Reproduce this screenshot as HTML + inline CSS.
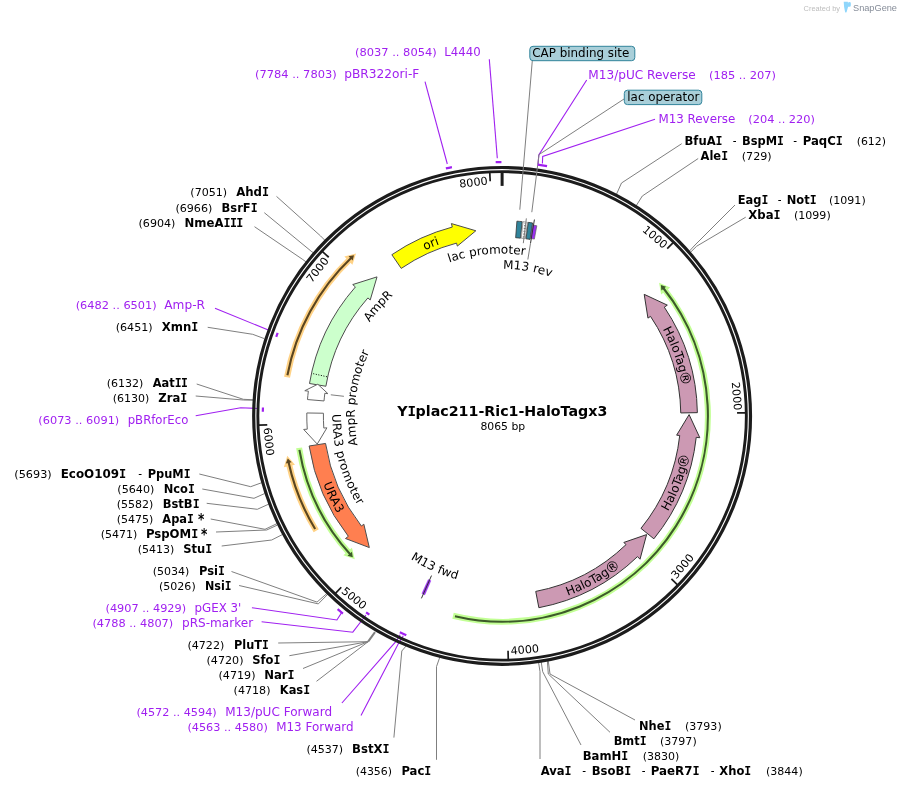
<!DOCTYPE html>
<html lang="en"><head><meta charset="utf-8"><title>YIplac211-Ric1-HaloTagx3</title>
<style>
html,body{margin:0;padding:0;background:#fff;}
body{width:901px;height:789px;overflow:hidden;}
svg{display:block;}
text{font-family:"DejaVu Sans","Liberation Sans",sans-serif;font-size:12px;fill:#000;}
.b{font-weight:bold;}
.n{font-size:11px;}
.ast{font-weight:bold;font-size:15px;}
.m{font-family:"DejaVu Sans Mono","Liberation Mono",monospace;font-weight:bold;letter-spacing:-0.6px;}
.p{fill:#a020f0;}
.pn{fill:#a020f0;font-size:11px;}
.tk{font-size:11px;}
.ttl{font-weight:bold;font-size:14px;}
.g{fill:none;stroke:#7f7f7f;stroke-width:1;}
.gt{fill:none;stroke:#7f7f7f;stroke-width:2;}
.pl{fill:none;stroke:#a020f0;stroke-width:1.1;}
.pm{fill:none;stroke:#a020f0;stroke-width:2.2;}
.sg1{font-family:"Liberation Sans",sans-serif;font-size:7.6px;fill:#bdbdbd;}
.sg2{font-family:"Liberation Sans",sans-serif;font-size:9.9px;fill:#858c98;}
</style></head><body>
<svg width="901" height="789" viewBox="0 0 901 789">
<rect x="0" y="0" width="901" height="789" fill="#ffffff"/>
<polyline points="681.7,143.7 621.5,183 615.69,196" class="g"/>
<polyline points="698.2,158.5 642.3,196 635.23,207.25" class="g"/>
<polyline points="735,205 695,245 688.04,252.55" class="g"/>
<polyline points="745.7,217.2 696.7,246.2 689.05,253.71" class="g"/>
<polyline points="635,720 550,674 548.01,659.1" class="g"/>
<polyline points="610,732.3 548.3,674 547.25,659.25" class="g"/>
<polyline points="581,745 542.7,671.7 540.98,660.33" class="g"/>
<polyline points="540,759 540,671.7 538.32,660.74" class="g"/>
<polyline points="436.5,759.8 436.5,666.6 440.38,655.58" class="g"/>
<polyline points="393.9,737.6 401.8,651 407.31,644.53" class="g"/>
<polyline points="239.1,585.5 318.3,603.9 328,594" class="g"/>
<polyline points="231.5,571.5 317,602.1 327.2,593.2" class="g"/>
<polyline points="221.7,546 271.7,540 282.5,534.5" class="g"/>
<polyline points="216,532 266.7,530 277.5,525" class="g"/>
<polyline points="210.7,519 265,529.3 277,523.6" class="g"/>
<polyline points="206.7,503.3 257.3,509.3 269,504" class="g"/>
<polyline points="202.3,489 254,498.3 264.5,493.6" class="g"/>
<polyline points="199.3,474 250.7,486.7 262.5,482.4" class="g"/>
<polyline points="195.7,396 243.3,400 254,400.2" class="g"/>
<polyline points="196.7,384 243.3,399.3 254,399.8" class="g"/>
<polyline points="207.7,327.3 252.7,334.3 264,338.5" class="g"/>
<polyline points="254.5,226.7 302.2,259.1 307.54,262.93" class="g"/>
<polyline points="264.3,212.7 311.9,251.8 315.15,253.71" class="g"/>
<polyline points="276.5,196.4 320.5,235.9 326.29,241.69" class="g"/>
<polyline points="316.5,681.3 368.1,641.7" class="g"/>
<polyline points="303,668.5 368.1,641.7" class="g"/>
<polyline points="289.4,655.7 368.1,641.7" class="g"/>
<polyline points="278.2,643 368.1,641.7" class="g"/>
<polyline points="368.1,641.7 375,632.2" class="gt"/>
<polyline points="489.3,59.3 497.3,158.3" class="pl"/>
<polyline points="425,81.7 447.3,164" class="pl"/>
<polyline points="586.7,80 538.8,155 538.1,164" class="pl"/>
<polyline points="655,119.3 542.7,156.5 542.4,163.5" class="pl"/>
<polyline points="215,308.3 268.3,330 270.5,331" class="pl"/>
<polyline points="195.7,415.7 240.7,407.7 258,408.5" class="pl"/>
<polyline points="251.9,607.7 336.9,620 341.3,613.1" class="pl"/>
<polyline points="261.6,621.8 352.8,632.2 366,615" class="pl"/>
<polyline points="341.9,703 396.2,641.2 400.2,634.8" class="pl"/>
<polyline points="361,715.4 398.7,643 403.3,635.8" class="pl"/>
<circle cx="502.1" cy="415.9" r="248.4" fill="none" stroke="#1c1c1c" stroke-width="3.2"/>
<circle cx="502.1" cy="415.9" r="244.25" fill="none" stroke="#1c1c1c" stroke-width="2.9"/>
<polyline points="532.3,60.7 519.8,209.7" class="g"/>
<polyline points="624,99 539,154.6 531.8,212.2" class="g"/>
<path d="M 495.68 162.18 A 253.8 253.8 0 0 1 501.44 162.1" class="pm"/>
<path d="M 445.87 168.41 A 253.8 253.8 0 0 1 451.93 167.11" class="pm"/>
<path d="M 537.64 164.6 A 253.8 253.8 0 0 1 547.04 166.11" class="pm"/>
<path d="M 276.25 336.81 A 239.3 239.3 0 0 1 277.66 332.88" class="pm"/>
<path d="M 262.84 411.72 A 239.3 239.3 0 0 1 262.95 407.55" class="pm"/>
<path d="M 342.9 613.56 A 253.8 253.8 0 0 1 337.61 609.18" class="pm"/>
<path d="M 369.37 614.54 A 238.9 238.9 0 0 1 366.1 612.31" class="pm"/>
<path d="M 406.3 635.19 A 239.3 239.3 0 0 1 399.83 632.25" class="pm"/>
<line x1="502.1" y1="172.4" x2="502.1" y2="185.9" stroke="#1c1c1c" stroke-width="3"/>
<line x1="673.19" y1="242.63" x2="667.21" y2="248.68" stroke="#1c1c1c" stroke-width="1.7"/>
<text transform="translate(652.63 239.89) rotate(40.54)" x="0" y="0" text-anchor="middle" class="tk" textLength="28.4" lengthAdjust="spacingAndGlyphs">1000</text>
<line x1="745.58" y1="412.82" x2="737.08" y2="412.93" stroke="#1c1c1c" stroke-width="1.7"/>
<text transform="translate(732.88 396.42) rotate(85.17)" x="0" y="0" text-anchor="middle" class="tk" textLength="28.4" lengthAdjust="spacingAndGlyphs">2000</text>
<line x1="677.52" y1="584.78" x2="671.4" y2="578.88" stroke="#1c1c1c" stroke-width="1.7"/>
<text transform="translate(685.38 568.67) rotate(-50.19)" x="0" y="0" text-anchor="middle" class="tk" textLength="28.4" lengthAdjust="spacingAndGlyphs">3000</text>
<line x1="508.26" y1="659.32" x2="508.05" y2="650.82" stroke="#1c1c1c" stroke-width="1.7"/>
<text transform="translate(525.18 653.38) rotate(-5.55)" x="0" y="0" text-anchor="middle" class="tk" textLength="28.4" lengthAdjust="spacingAndGlyphs">4000</text>
<line x1="335.45" y1="593.44" x2="341.27" y2="587.25" stroke="#1c1c1c" stroke-width="1.7"/>
<text transform="translate(351.66 601.1) rotate(39.09)" x="0" y="0" text-anchor="middle" class="tk" textLength="28.4" lengthAdjust="spacingAndGlyphs">5000</text>
<line x1="258.78" y1="425.15" x2="267.27" y2="424.82" stroke="#1c1c1c" stroke-width="1.7"/>
<text transform="translate(264.93 441.98) rotate(83.72)" x="0" y="0" text-anchor="middle" class="tk" textLength="28.4" lengthAdjust="spacingAndGlyphs">6000</text>
<line x1="322.46" y1="251.52" x2="328.73" y2="257.25" stroke="#1c1c1c" stroke-width="1.7"/>
<text transform="translate(320.5 272.16) rotate(-51.64)" x="0" y="0" text-anchor="middle" class="tk" textLength="28.4" lengthAdjust="spacingAndGlyphs">7000</text>
<line x1="489.77" y1="172.71" x2="490.2" y2="181.2" stroke="#1c1c1c" stroke-width="1.7"/>
<text transform="translate(473.87 186.03) rotate(-7)" x="0" y="0" text-anchor="middle" class="tk" textLength="28.4" lengthAdjust="spacingAndGlyphs">8000</text>
<path d="M 453.01 615.76 A 205.8 205.8 0 0 0 664.11 288.99" fill="none" stroke="#c2ff94" stroke-width="6" stroke-linecap="butt"/>
<path d="M 659.06 282.79 L 670.17 287.51 L 661.11 294.43 Z" fill="#c2ff94"/>
<path d="M 454.95 616.23 A 205.8 205.8 0 0 0 663.12 287.74" fill="none" stroke="#3d5a2a" stroke-width="2.1"/>
<path d="M 660.85 284.94 L 666.1 286.66 L 661.38 290.38 Z" fill="#3d5a2a"/>
<path d="M 299.1 447.87 A 205.5 205.5 0 0 0 349.31 553.33" fill="none" stroke="#c2ff94" stroke-width="6" stroke-linecap="butt"/>
<path d="M 354.77 559.17 L 343.37 555.22 L 351.93 547.7 Z" fill="#c2ff94"/>
<path d="M 299.42 449.84 A 205.5 205.5 0 0 0 350.39 554.51" fill="none" stroke="#3d5a2a" stroke-width="2.1"/>
<path d="M 352.84 557.15 L 347.49 555.78 L 351.94 551.76 Z" fill="#3d5a2a"/>
<path d="M 287.05 377.21 A 218.5 218.5 0 0 1 350.19 258.85" fill="none" stroke="#ffd285" stroke-width="6" stroke-linecap="butt"/>
<path d="M 356.04 253.4 L 344.39 256.55 L 352.41 264.65 Z" fill="#ffd285"/>
<path d="M 287.42 375.24 A 218.5 218.5 0 0 1 351.34 257.74" fill="none" stroke="#5a4520" stroke-width="2.1"/>
<path d="M 353.97 255.28 L 348.54 256.27 L 352.7 260.6 Z" fill="#5a4520"/>
<path d="M 316.2 530.72 A 218.5 218.5 0 0 1 288.86 463.56" fill="none" stroke="#ffd285" stroke-width="6" stroke-linecap="butt"/>
<path d="M 287.26 455.72 L 283.87 467.3 L 294.97 464.69 Z" fill="#ffd285"/>
<path d="M 315.15 529.01 A 218.5 218.5 0 0 1 288.52 461.99" fill="none" stroke="#5a4520" stroke-width="2.1"/>
<path d="M 287.79 458.47 L 285.8 463.62 L 291.66 462.32 Z" fill="#5a4520"/>
<path d="M 401.22 268.4 L 391.85 254.7 A 195.3 195.3 0 0 1 452.31 227.05 L 451.39 223.57 L 475.85 230.75 L 457.33 246.1 L 456.54 243.1 A 178.7 178.7 0 0 0 401.22 268.4 Z" fill="#ffff00" stroke="#4d4d4d" stroke-width="1" stroke-linejoin="miter"/>
<path d="M 325.88 386.25 L 309.51 383.5 A 195.3 195.3 0 0 1 355.42 286.95 L 352.72 284.57 L 377.02 276.89 L 370.22 299.96 L 367.89 297.91 A 178.7 178.7 0 0 0 325.88 386.25 Z" fill="#ccffcc" stroke="#4d4d4d" stroke-width="1" stroke-linejoin="miter"/>
<line x1="326.92" y1="376.74" x2="312.28" y2="373.47" stroke="#000" stroke-width="1" stroke-dasharray="1,1.6"/>
<path d="M 324.03 400.95 L 307.48 399.56 A 195.3 195.3 0 0 1 308.37 391.17 L 304.8 390.71 L 317.8 384.23 L 327.91 393.66 L 324.84 393.27 A 178.7 178.7 0 0 0 324.03 400.95 Z" fill="#ffffff" stroke="#666" stroke-width="1" stroke-linejoin="miter"/>
<path d="M 323.42 413.22 L 306.82 412.97 A 195.3 195.3 0 0 0 307.25 429.18 L 303.66 429.43 L 317.23 444.06 L 326.91 427.84 L 323.81 428.05 A 178.7 178.7 0 0 1 323.42 413.22 Z" fill="#ffffff" stroke="#666" stroke-width="1" stroke-linejoin="miter"/>
<path d="M 325.54 443.45 L 309.14 446.01 A 195.3 195.3 0 0 0 348.33 536.3 L 345.49 538.52 L 369.32 547.57 L 363.84 524.16 L 361.4 526.07 A 178.7 178.7 0 0 1 325.54 443.45 Z" fill="#ff7f50" stroke="#4d4d4d" stroke-width="1" stroke-linejoin="miter"/>
<path d="M 680.78 412.94 L 697.37 412.66 A 195.3 195.3 0 0 0 664.32 307.14 L 667.31 305.14 L 644.21 294.35 L 647.95 318.11 L 650.53 316.39 A 178.7 178.7 0 0 1 680.78 412.94 Z" fill="#cc99b3" stroke="#333" stroke-width="1" stroke-linejoin="miter"/>
<path d="M 640.98 528.36 L 653.88 538.81 A 195.3 195.3 0 0 0 696.22 437.33 L 699.8 437.73 L 689.1 414.59 L 676.64 435.17 L 679.72 435.51 A 178.7 178.7 0 0 1 640.98 528.36 Z" fill="#cc99b3" stroke="#333" stroke-width="1" stroke-linejoin="miter"/>
<path d="M 535.74 591.41 L 538.86 607.71 A 195.3 195.3 0 0 0 637.52 556.62 L 640.02 559.22 L 646.6 534.59 L 623.86 542.43 L 626.01 544.66 A 178.7 178.7 0 0 1 535.74 591.41 Z" fill="#cc99b3" stroke="#333" stroke-width="1" stroke-linejoin="miter"/>
<path d="M 515.65 237.71 L 516.91 221.16 A 195.3 195.3 0 0 1 522.18 221.63 L 520.47 238.15 A 178.7 178.7 0 0 0 515.65 237.71 Z" fill="#31849b" stroke="#333" stroke-width="0.8"/>
<path d="M 521.24 238.23 L 523.02 221.72 A 195.3 195.3 0 0 1 527.42 222.25 L 525.27 238.71 A 178.7 178.7 0 0 0 521.24 238.23 Z" fill="#ffffff" stroke="#777" stroke-width="0.7"/>
<line x1="523.69" y1="237.5" x2="525.44" y2="223.01" stroke="#777" stroke-width="2" stroke-dasharray="1.2,1.6"/>
<path d="M 526.04 238.81 L 528.27 222.36 A 195.3 195.3 0 0 1 532.65 223 L 530.05 239.4 A 178.7 178.7 0 0 0 526.04 238.81 Z" fill="#31849b" stroke="#333" stroke-width="0.8"/>
<path d="M 530.52 238.46 L 532.67 225.03 A 193.3 193.3 0 0 1 536.83 225.75 L 534.39 239.12 A 179.7 179.7 0 0 0 530.52 238.46 Z" fill="#9a30f0" stroke="#555" stroke-width="0.6"/>
<polyline points="526.35,218.38 523.31,243.2" class="g"/>
<line x1="534.43" y1="219.54" x2="530.53" y2="243.22" stroke="#333" stroke-width="1"/>
<polyline points="530.53,243.22 527.85,259.51" class="g"/>
<polyline points="330.8,394.8 343.9,396.3" class="g"/>
<path d="M 430.96 580.7 L 424.81 594.93 A 195 195 0 0 1 421.85 593.62 L 428.23 579.5 A 179.5 179.5 0 0 0 430.96 580.7 Z" fill="#9a30f0" stroke="#9a30f0" stroke-width="0.3"/>
<line x1="431.5" y1="575.59" x2="421.43" y2="598.36" stroke="#333" stroke-width="1"/>
<path id="tp1" d="M 327.9 360.98 A 182.65 182.65 0 0 1 586.44 253.89" fill="none" stroke="none"/>
<text text-anchor="middle" textLength="15.7" lengthAdjust="spacing"><textPath href="#tp1" startOffset="50%">ori</textPath></text>
<path id="tp2" d="M 341.58 439.89 A 162.3 162.3 0 0 1 506.35 253.66" fill="none" stroke="none"/>
<text text-anchor="middle" textLength="35.7" lengthAdjust="spacing"><textPath href="#tp2" startOffset="50%">AmpR</textPath></text>
<path id="tp3" d="M 394.07 516.11 A 147.35 147.35 0 0 1 422.17 292.11" fill="none" stroke="none"/>
<text text-anchor="middle" textLength="95.5" lengthAdjust="spacing"><textPath href="#tp3" startOffset="50%">AmpR promoter</textPath></text>
<path id="tp4" d="M 362.08 320.03 A 169.7 169.7 0 0 0 432 570.44" fill="none" stroke="none"/>
<text text-anchor="middle" textLength="96" lengthAdjust="spacing"><textPath href="#tp4" startOffset="50%">URA3 promoter</textPath></text>
<path id="tp5" d="M 327.65 337.28 A 191.35 191.35 0 0 0 454.97 601.35" fill="none" stroke="none"/>
<text text-anchor="middle" textLength="33" lengthAdjust="spacing"><textPath href="#tp5" startOffset="50%">URA3</textPath></text>
<path id="tp6" d="M 368.5 323.74 A 162.3 162.3 0 0 1 616.06 300.34" fill="none" stroke="none"/>
<text text-anchor="middle" textLength="76.8" lengthAdjust="spacing"><textPath href="#tp6" startOffset="50%">lac promoter</textPath></text>
<path id="tp7" d="M 407.24 303.41 A 147.15 147.15 0 0 1 629.36 342.01" fill="none" stroke="none"/>
<text text-anchor="middle" textLength="49" lengthAdjust="spacing"><textPath href="#tp7" startOffset="50%">M13 rev</textPath></text>
<path id="tp8" d="M 338.97 462.68 A 169.7 169.7 0 0 0 576.49 568.43" fill="none" stroke="none"/>
<text text-anchor="middle" textLength="51" lengthAdjust="spacing"><textPath href="#tp8" startOffset="50%">M13 fwd</textPath></text>
<path id="tp9" d="M 567.85 245.5 A 182.65 182.65 0 0 1 658.5 510.24" fill="none" stroke="none"/>
<text text-anchor="middle"><textPath href="#tp9" startOffset="50%">HaloTag<tspan font-size="14.5" dx="-1.2" dy="0.6">&#174;</tspan></textPath></text>
<path id="tp10" d="M 564.87 596.66 A 191.35 191.35 0 0 0 669.22 322.69" fill="none" stroke="none"/>
<text text-anchor="middle"><textPath href="#tp10" startOffset="50%">HaloTag<tspan font-size="14.5" dx="-1.2" dy="0.6">&#174;</tspan></textPath></text>
<path id="tp11" d="M 434.15 594.78 A 191.35 191.35 0 0 0 690.06 451.76" fill="none" stroke="none"/>
<text text-anchor="middle"><textPath href="#tp11" startOffset="50%">HaloTag<tspan font-size="14.5" dx="-1.2" dy="0.6">&#174;</tspan></textPath></text>
<text x="397.3" y="415.8" class="ttl" textLength="210" lengthAdjust="spacingAndGlyphs">Y<tspan class="m">I</tspan>plac211-Ric1-HaloTagx3</text>
<text x="480.4" y="430" class="n" textLength="44.8" lengthAdjust="spacingAndGlyphs">8065 bp</text>
<rect x="529.8" y="46.3" width="105" height="14.4" rx="3.2" ry="3.2" fill="#a9cfd9" stroke="#31849b" stroke-width="1"/>
<text x="532.3" y="56.9" textLength="97" lengthAdjust="spacingAndGlyphs">CAP binding site</text>
<rect x="624.3" y="90.2" width="77.5" height="14.4" rx="3.2" ry="3.2" fill="#a9cfd9" stroke="#31849b" stroke-width="1"/>
<text x="627.3" y="101" textLength="72" lengthAdjust="spacingAndGlyphs">lac operator</text>
<text x="355" y="56" class="pn" textLength="81.7" lengthAdjust="spacingAndGlyphs">(8037 .. 8054)</text>
<text x="444.3" y="56" class="p" textLength="36.4" lengthAdjust="spacingAndGlyphs">L4440</text>
<text x="255" y="78" class="pn" textLength="81.7" lengthAdjust="spacingAndGlyphs">(7784 .. 7803)</text>
<text x="344.3" y="78" class="p" textLength="75" lengthAdjust="spacingAndGlyphs">pBR322ori-F</text>
<text x="588.3" y="79" class="p" textLength="107.4" lengthAdjust="spacingAndGlyphs">M13/pUC Reverse</text>
<text x="709" y="79" class="pn" textLength="67" lengthAdjust="spacingAndGlyphs">(185 .. 207)</text>
<text x="658.5" y="123" class="p" textLength="76.8" lengthAdjust="spacingAndGlyphs">M13 Reverse</text>
<text x="748.3" y="123" class="pn" textLength="66.7" lengthAdjust="spacingAndGlyphs">(204 .. 220)</text>
<text x="684.5" y="145" class="b" textLength="37.5" lengthAdjust="spacingAndGlyphs">BfuA<tspan class="m">I</tspan></text>
<text x="732.7" y="145" textLength="3.8" lengthAdjust="spacingAndGlyphs">-</text>
<text x="742" y="145" class="b" textLength="41.3" lengthAdjust="spacingAndGlyphs">BspM<tspan class="m">I</tspan></text>
<text x="793.3" y="145" textLength="3.8" lengthAdjust="spacingAndGlyphs">-</text>
<text x="802.7" y="145" class="b" textLength="39.6" lengthAdjust="spacingAndGlyphs">PaqC<tspan class="m">I</tspan></text>
<text x="856.7" y="145" class="n" textLength="29.3" lengthAdjust="spacingAndGlyphs">(612)</text>
<text x="700.5" y="160" class="b" textLength="27" lengthAdjust="spacingAndGlyphs">Ale<tspan class="m">I</tspan></text>
<text x="741.7" y="160" class="n" textLength="30" lengthAdjust="spacingAndGlyphs">(729)</text>
<text x="737.7" y="204" class="b" textLength="30" lengthAdjust="spacingAndGlyphs">Eag<tspan class="m">I</tspan></text>
<text x="777.7" y="204" textLength="3.8" lengthAdjust="spacingAndGlyphs">-</text>
<text x="786.7" y="204" class="b" textLength="29.3" lengthAdjust="spacingAndGlyphs">Not<tspan class="m">I</tspan></text>
<text x="829" y="204" class="n" textLength="36.7" lengthAdjust="spacingAndGlyphs">(1091)</text>
<text x="748.3" y="219" class="b" textLength="31.7" lengthAdjust="spacingAndGlyphs">Xba<tspan class="m">I</tspan></text>
<text x="794" y="219" class="n" textLength="36.7" lengthAdjust="spacingAndGlyphs">(1099)</text>
<text x="639" y="730" class="b" textLength="31.7" lengthAdjust="spacingAndGlyphs">Nhe<tspan class="m">I</tspan></text>
<text x="685" y="730" class="n" textLength="36.7" lengthAdjust="spacingAndGlyphs">(3793)</text>
<text x="613.7" y="745" class="b" textLength="32.3" lengthAdjust="spacingAndGlyphs">Bmt<tspan class="m">I</tspan></text>
<text x="660" y="745" class="n" textLength="36.7" lengthAdjust="spacingAndGlyphs">(3797)</text>
<text x="582.7" y="760" class="b" textLength="45" lengthAdjust="spacingAndGlyphs">BamH<tspan class="m">I</tspan></text>
<text x="642.7" y="760" class="n" textLength="36.6" lengthAdjust="spacingAndGlyphs">(3830)</text>
<text x="540.7" y="775" class="b" textLength="30.3" lengthAdjust="spacingAndGlyphs">Ava<tspan class="m">I</tspan></text>
<text x="582.3" y="775" textLength="3.8" lengthAdjust="spacingAndGlyphs">-</text>
<text x="591.7" y="775" class="b" textLength="39" lengthAdjust="spacingAndGlyphs">BsoB<tspan class="m">I</tspan></text>
<text x="641.7" y="775" textLength="3.8" lengthAdjust="spacingAndGlyphs">-</text>
<text x="650.7" y="775" class="b" textLength="48.3" lengthAdjust="spacingAndGlyphs">PaeR7<tspan class="m">I</tspan></text>
<text x="710.7" y="775" textLength="3.8" lengthAdjust="spacingAndGlyphs">-</text>
<text x="719.3" y="775" class="b" textLength="31.4" lengthAdjust="spacingAndGlyphs">Xho<tspan class="m">I</tspan></text>
<text x="766" y="775" class="n" textLength="36.7" lengthAdjust="spacingAndGlyphs">(3844)</text>
<text x="190.3" y="196" class="n" textLength="36.9" lengthAdjust="spacingAndGlyphs">(7051)</text>
<text x="236.2" y="196" class="b" textLength="32.3" lengthAdjust="spacingAndGlyphs">Ahd<tspan class="m">I</tspan></text>
<text x="175.4" y="212" class="n" textLength="36.9" lengthAdjust="spacingAndGlyphs">(6966)</text>
<text x="221.6" y="212" class="b" textLength="35.4" lengthAdjust="spacingAndGlyphs">BsrF<tspan class="m">I</tspan></text>
<text x="138.5" y="227" class="n" textLength="36.9" lengthAdjust="spacingAndGlyphs">(6904)</text>
<text x="184.5" y="227" class="b" textLength="58.3" lengthAdjust="spacingAndGlyphs">NmeA<tspan class="m">III</tspan></text>
<text x="75.7" y="309" class="pn" textLength="81" lengthAdjust="spacingAndGlyphs">(6482 .. 6501)</text>
<text x="164.3" y="309" class="p" textLength="40.7" lengthAdjust="spacingAndGlyphs">Amp-R</text>
<text x="115.7" y="331" class="n" textLength="37" lengthAdjust="spacingAndGlyphs">(6451)</text>
<text x="161.7" y="331" class="b" textLength="36" lengthAdjust="spacingAndGlyphs">Xmn<tspan class="m">I</tspan></text>
<text x="106.7" y="387" class="n" textLength="36.6" lengthAdjust="spacingAndGlyphs">(6132)</text>
<text x="152.7" y="387" class="b" textLength="34.6" lengthAdjust="spacingAndGlyphs">Aat<tspan class="m">II</tspan></text>
<text x="112.7" y="402" class="n" textLength="36.6" lengthAdjust="spacingAndGlyphs">(6130)</text>
<text x="158.3" y="402" class="b" textLength="28.4" lengthAdjust="spacingAndGlyphs">Zra<tspan class="m">I</tspan></text>
<text x="38.3" y="424" class="pn" textLength="81" lengthAdjust="spacingAndGlyphs">(6073 .. 6091)</text>
<text x="127.7" y="424" class="p" textLength="60.6" lengthAdjust="spacingAndGlyphs">pBRforEco</text>
<text x="14.3" y="478" class="n" textLength="37.4" lengthAdjust="spacingAndGlyphs">(5693)</text>
<text x="60.7" y="478" class="b" textLength="65" lengthAdjust="spacingAndGlyphs">EcoO109<tspan class="m">I</tspan></text>
<text x="138.3" y="478" textLength="3.8" lengthAdjust="spacingAndGlyphs">-</text>
<text x="147.7" y="478" class="b" textLength="42.3" lengthAdjust="spacingAndGlyphs">PpuM<tspan class="m">I</tspan></text>
<text x="117.3" y="493" class="n" textLength="37" lengthAdjust="spacingAndGlyphs">(5640)</text>
<text x="163.7" y="493" class="b" textLength="30.6" lengthAdjust="spacingAndGlyphs">Nco<tspan class="m">I</tspan></text>
<text x="116.7" y="508" class="n" textLength="36.6" lengthAdjust="spacingAndGlyphs">(5582)</text>
<text x="162.7" y="508" class="b" textLength="36.3" lengthAdjust="spacingAndGlyphs">BstB<tspan class="m">I</tspan></text>
<text x="116.7" y="523" class="n" textLength="36.6" lengthAdjust="spacingAndGlyphs">(5475)</text>
<text x="162.3" y="523" class="b" textLength="31" lengthAdjust="spacingAndGlyphs">Apa<tspan class="m">I</tspan></text>
<text x="198" y="525" class="ast" textLength="6.3" lengthAdjust="spacingAndGlyphs">*</text>
<text x="100.7" y="538" class="n" textLength="36.6" lengthAdjust="spacingAndGlyphs">(5471)</text>
<text x="145.9" y="538" class="b" textLength="51.8" lengthAdjust="spacingAndGlyphs">PspOM<tspan class="m">I</tspan></text>
<text x="201" y="540" class="ast" textLength="6.3" lengthAdjust="spacingAndGlyphs">*</text>
<text x="137.7" y="553" class="n" textLength="36.6" lengthAdjust="spacingAndGlyphs">(5413)</text>
<text x="183.3" y="553" class="b" textLength="28.4" lengthAdjust="spacingAndGlyphs">Stu<tspan class="m">I</tspan></text>
<text x="152.7" y="575" class="n" textLength="36.6" lengthAdjust="spacingAndGlyphs">(5034)</text>
<text x="199" y="575" class="b" textLength="25.3" lengthAdjust="spacingAndGlyphs">Psi<tspan class="m">I</tspan></text>
<text x="159" y="590" class="n" textLength="36.7" lengthAdjust="spacingAndGlyphs">(5026)</text>
<text x="205" y="590" class="b" textLength="26" lengthAdjust="spacingAndGlyphs">Nsi<tspan class="m">I</tspan></text>
<text x="105.5" y="612" class="pn" textLength="80.6" lengthAdjust="spacingAndGlyphs">(4907 .. 4929)</text>
<text x="194.5" y="612" class="p" textLength="46.8" lengthAdjust="spacingAndGlyphs">pGEX 3&#39;</text>
<text x="92.4" y="627" class="pn" textLength="80.8" lengthAdjust="spacingAndGlyphs">(4788 .. 4807)</text>
<text x="182.1" y="627" class="p" textLength="71" lengthAdjust="spacingAndGlyphs">pRS-marker</text>
<text x="187.4" y="649" class="n" textLength="36.9" lengthAdjust="spacingAndGlyphs">(4722)</text>
<text x="234" y="649" class="b" textLength="34.2" lengthAdjust="spacingAndGlyphs">PluT<tspan class="m">I</tspan></text>
<text x="206.5" y="664" class="n" textLength="37" lengthAdjust="spacingAndGlyphs">(4720)</text>
<text x="252.2" y="664" class="b" textLength="27.6" lengthAdjust="spacingAndGlyphs">Sfo<tspan class="m">I</tspan></text>
<text x="218.5" y="679" class="n" textLength="37" lengthAdjust="spacingAndGlyphs">(4719)</text>
<text x="264.2" y="679" class="b" textLength="29.8" lengthAdjust="spacingAndGlyphs">Nar<tspan class="m">I</tspan></text>
<text x="233.6" y="694" class="n" textLength="36.9" lengthAdjust="spacingAndGlyphs">(4718)</text>
<text x="279.8" y="694" class="b" textLength="29.7" lengthAdjust="spacingAndGlyphs">Kas<tspan class="m">I</tspan></text>
<text x="136.4" y="716" class="pn" textLength="80.3" lengthAdjust="spacingAndGlyphs">(4572 .. 4594)</text>
<text x="225.2" y="716" class="p" textLength="106.9" lengthAdjust="spacingAndGlyphs">M13/pUC Forward</text>
<text x="187.4" y="731" class="pn" textLength="80.4" lengthAdjust="spacingAndGlyphs">(4563 .. 4580)</text>
<text x="276.2" y="731" class="p" textLength="77.3" lengthAdjust="spacingAndGlyphs">M13 Forward</text>
<text x="306.4" y="753" class="n" textLength="36.8" lengthAdjust="spacingAndGlyphs">(4537)</text>
<text x="352.1" y="753" class="b" textLength="36.9" lengthAdjust="spacingAndGlyphs">BstX<tspan class="m">I</tspan></text>
<text x="355.7" y="775" class="n" textLength="36.3" lengthAdjust="spacingAndGlyphs">(4356)</text>
<text x="401.4" y="775" class="b" textLength="29.3" lengthAdjust="spacingAndGlyphs">Pac<tspan class="m">I</tspan></text>
<text x="803.6" y="10.5" class="sg1" textLength="36.5" lengthAdjust="spacingAndGlyphs">Created by</text>
<path d="M 843.7 1.7 L 847.8 1.7 L 847.8 2.1 L 849.5 2.1 Q 850.8 2.1 850.8 3.3 L 850.8 5.6 Q 850.8 6.8 849.5 6.8 L 848.1 6.8 L 846.6 11.9 Q 845.8 13.3 845.1 11.9 L 844.1 7 Z" fill="#8fd6fb"/>
<path d="M 847.8 2.1 L 849.5 2.1 L 847.8 3.6 Z" fill="#c4ebff"/>
<text x="853" y="10.8" class="sg2" textLength="44" lengthAdjust="spacingAndGlyphs">SnapGene</text>
</svg></body></html>
